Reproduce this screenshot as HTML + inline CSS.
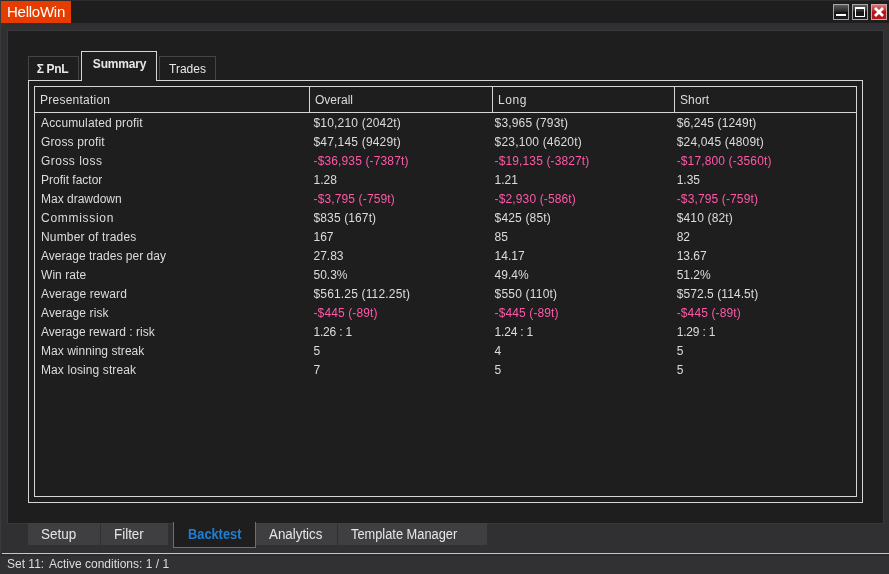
<!DOCTYPE html>
<html><head><meta charset="utf-8">
<style>
html,body{margin:0;padding:0;}
body{width:889px;height:574px;background:#303033;overflow:hidden;position:relative;font-family:"Liberation Sans",sans-serif;color:#e6e6e6;}
.abs{position:absolute;}
#titlebar{left:0;top:0;width:889px;height:23px;background:#1e1e1e;}
#edgeL{left:0;top:0;width:1px;height:574px;background:#3a3a3c;}
#edgeT{left:0;top:0;width:889px;height:1px;background:#2c2c2e;}
#title{left:1px;top:1px;width:70px;height:22px;background:#e63c00;color:#fff;font-size:15px;line-height:21px;letter-spacing:-0.25px;}
#title span{position:absolute;left:6px;top:0;}
#panel{left:8px;top:31px;width:875px;height:492px;background:#1e1e1e;box-shadow:0 0 0 1px #39393c;}
.btn{top:4px;width:16px;height:16px;box-sizing:border-box;border:1px solid #a6a6a6;background:linear-gradient(#5c5c5c,#2a2a2a 45%,#141414 50%,#1c1c1c);}
#close{background:linear-gradient(#d87878,#c03030 40%,#b01418 50%,#b41a1c);border-color:#d0a8a8;}
.tab{box-sizing:border-box;border:1px solid #454545;border-bottom:none;font-size:12px;text-align:center;color:#e8e8e8;}
#tabpanel{left:28px;top:80px;width:835px;height:423px;box-sizing:border-box;border:1px solid #d6d6d6;}
#grid{left:34px;top:86px;width:823px;height:411px;box-sizing:border-box;border:1px solid #d6d6d6;}
.hl{background:#d6d6d6;}
.t{font-size:12px;line-height:14px;white-space:nowrap;color:#dcdcdc;}
.neg{color:#ff58a8;}
.bt{top:523px;height:22px;background:#3f3f42;font-size:14px;line-height:22px;text-align:left;color:#e6e6e6;box-sizing:border-box;padding-left:13px;white-space:nowrap;}
.bt span,.bts span{display:inline-block;transform-origin:0 50%;}
#status{left:0;top:554px;width:889px;height:20px;background:#313134;border-top:2px solid #2c2c2f;box-sizing:border-box;}
</style></head><body>
<div class="abs" id="titlebar"></div>
<div class="abs" id="edgeT"></div><div class="abs" id="edgeL"></div>
<div class="abs" id="title"><span>HelloWin</span></div>
<div class="abs btn" style="left:833px"><div class="abs" style="left:2px;top:9px;width:10px;height:2px;background:#fff"></div></div>
<div class="abs btn" style="left:852px"><div class="abs" style="left:2px;top:2px;width:10px;height:10px;box-sizing:border-box;border:1px solid #fff;border-top-width:2px"></div></div>
<div class="abs btn" id="close" style="left:871px"><svg class="abs" style="left:0;top:0" width="14" height="14" viewBox="0 0 14 14"><path d="M3 3 L11 11 M11 3 L3 11" stroke="#fff" stroke-width="2.8"/></svg></div>
<div class="abs" id="panel"></div>

<div class="abs tab" style="left:28px;top:56px;width:51px;height:24px;font-weight:bold;line-height:24px;letter-spacing:-0.3px;text-indent:-2px">Σ PnL</div>
<div class="abs tab" style="left:159px;top:56px;width:57px;height:24px;line-height:24px;">Trades</div>
<div class="abs" id="tabpanel"></div>
<div class="abs tab" style="left:81px;top:51px;width:76px;height:30px;font-weight:bold;line-height:24px;border-color:#d6d6d6;background:#1e1e1e;letter-spacing:-0.2px;text-indent:1px">Summary</div>
<div class="abs" id="grid"></div>
<div class="abs hl" style="left:35px;top:112px;width:821px;height:1px"></div>
<div class="abs hl" style="left:309px;top:87px;width:1px;height:25px"></div>
<div class="abs hl" style="left:492px;top:87px;width:1px;height:25px"></div>
<div class="abs hl" style="left:674px;top:87px;width:1px;height:25px"></div>
<div id="rows">
<div class="abs t" style="left:40px;top:93px;letter-spacing:0.240px">Presentation</div>
<div class="abs t" style="left:315px;top:93px;letter-spacing:0.000px">Overall</div>
<div class="abs t" style="left:498px;top:93px;letter-spacing:0.550px">Long</div>
<div class="abs t" style="left:680px;top:93px;letter-spacing:0.100px">Short</div>
<div class="abs t" style="left:41px;top:116px;letter-spacing:0.129px">Accumulated profit</div>
<div class="abs t" style="left:313.5px;top:116px;letter-spacing:0.186px">$10,210 (2042t)</div>
<div class="abs t" style="left:494.6px;top:116px;letter-spacing:0.167px">$3,965 (793t)</div>
<div class="abs t" style="left:676.7px;top:116px;letter-spacing:0.123px">$6,245 (1249t)</div>
<div class="abs t" style="left:41px;top:135px;letter-spacing:0.145px">Gross profit</div>
<div class="abs t" style="left:313.5px;top:135px;letter-spacing:0.186px">$47,145 (9429t)</div>
<div class="abs t" style="left:494.6px;top:135px;letter-spacing:0.171px">$23,100 (4620t)</div>
<div class="abs t" style="left:676.7px;top:135px;letter-spacing:0.171px">$24,045 (4809t)</div>
<div class="abs t" style="left:41px;top:154px;letter-spacing:0.467px">Gross loss</div>
<div class="abs t neg" style="left:313.5px;top:154px;letter-spacing:0.137px">-$36,935 (-7387t)</div>
<div class="abs t neg" style="left:494.6px;top:154px;letter-spacing:0.125px">-$19,135 (-3827t)</div>
<div class="abs t neg" style="left:676.7px;top:154px;letter-spacing:0.125px">-$17,800 (-3560t)</div>
<div class="abs t" style="left:41px;top:173px;">Profit factor</div>
<div class="abs t" style="left:313.5px;top:173px;">1.28</div>
<div class="abs t" style="left:494.6px;top:173px;">1.21</div>
<div class="abs t" style="left:676.7px;top:173px;">1.35</div>
<div class="abs t" style="left:41px;top:192px;">Max drawdown</div>
<div class="abs t neg" style="left:313.5px;top:192px;letter-spacing:0.135px">-$3,795 (-759t)</div>
<div class="abs t neg" style="left:494.6px;top:192px;letter-spacing:0.129px">-$2,930 (-586t)</div>
<div class="abs t neg" style="left:676.7px;top:192px;letter-spacing:0.135px">-$3,795 (-759t)</div>
<div class="abs t" style="left:41px;top:211px;letter-spacing:0.711px">Commission</div>
<div class="abs t" style="left:313.5px;top:211px;letter-spacing:0.120px">$835 (167t)</div>
<div class="abs t" style="left:494.6px;top:211px;letter-spacing:0.156px">$425 (85t)</div>
<div class="abs t" style="left:676.7px;top:211px;letter-spacing:0.156px">$410 (82t)</div>
<div class="abs t" style="left:41px;top:230px;letter-spacing:0.173px">Number of trades</div>
<div class="abs t" style="left:313.5px;top:230px;">167</div>
<div class="abs t" style="left:494.6px;top:230px;">85</div>
<div class="abs t" style="left:676.7px;top:230px;">82</div>
<div class="abs t" style="left:41px;top:249px;letter-spacing:0.019px">Average trades per day</div>
<div class="abs t" style="left:313.5px;top:249px;">27.83</div>
<div class="abs t" style="left:494.6px;top:249px;">14.17</div>
<div class="abs t" style="left:676.7px;top:249px;">13.67</div>
<div class="abs t" style="left:41px;top:268px;letter-spacing:0.057px">Win rate</div>
<div class="abs t" style="left:313.5px;top:268px;">50.3%</div>
<div class="abs t" style="left:494.6px;top:268px;">49.4%</div>
<div class="abs t" style="left:676.7px;top:268px;">51.2%</div>
<div class="abs t" style="left:41px;top:287px;letter-spacing:0.108px">Average reward</div>
<div class="abs t" style="left:313.5px;top:287px;letter-spacing:0.163px">$561.25 (112.25t)</div>
<div class="abs t" style="left:494.6px;top:287px;letter-spacing:0.200px">$550 (110t)</div>
<div class="abs t" style="left:676.7px;top:287px;letter-spacing:0.071px">$572.5 (114.5t)</div>
<div class="abs t" style="left:41px;top:306px;letter-spacing:0.091px">Average risk</div>
<div class="abs t neg" style="left:313.5px;top:306px;letter-spacing:0.115px">-$445 (-89t)</div>
<div class="abs t neg" style="left:494.6px;top:306px;letter-spacing:0.115px">-$445 (-89t)</div>
<div class="abs t neg" style="left:676.7px;top:306px;letter-spacing:0.115px">-$445 (-89t)</div>
<div class="abs t" style="left:41px;top:325px;letter-spacing:0.030px">Average reward : risk</div>
<div class="abs t" style="left:313.5px;top:325px;letter-spacing:-0.200px">1.26 : 1</div>
<div class="abs t" style="left:494.6px;top:325px;letter-spacing:-0.200px">1.24 : 1</div>
<div class="abs t" style="left:676.7px;top:325px;letter-spacing:-0.200px">1.29 : 1</div>
<div class="abs t" style="left:41px;top:344px;letter-spacing:0.035px">Max winning streak</div>
<div class="abs t" style="left:313.5px;top:344px;">5</div>
<div class="abs t" style="left:494.6px;top:344px;">4</div>
<div class="abs t" style="left:676.7px;top:344px;">5</div>
<div class="abs t" style="left:41px;top:363px;letter-spacing:0.100px">Max losing streak</div>
<div class="abs t" style="left:313.5px;top:363px;">7</div>
<div class="abs t" style="left:494.6px;top:363px;">5</div>
<div class="abs t" style="left:676.7px;top:363px;">5</div>
</div><!--endrows-->

<div class="abs bt" style="left:28px;width:72px;"><span style="transform:scaleX(0.963)">Setup</span></div>
<div class="abs bt" style="left:101px;width:67px;"><span style="transform:scaleX(0.957)">Filter</span></div>
<div class="abs bts" style="left:173px;top:522px;width:83px;height:26px;padding-top:1px;box-sizing:border-box;border:1px solid #1a84e0;border-top:none;background:#1e1e1e;color:#1c80d6;font-size:14px;font-weight:bold;line-height:22px;text-align:left;padding-left:14px;white-space:nowrap"><span style="transform:scaleX(0.915)">Backtest</span></div>
<div class="abs bt" style="left:256px;width:81px;"><span style="transform:scaleX(0.954)">Analytics</span></div>
<div class="abs bt" style="left:338px;width:149px;"><span style="transform:scaleX(0.916)">Template Manager</span></div>
<div class="abs" style="left:2px;top:553px;width:887px;height:1px;background:#c6c6c6"></div>
<div class="abs" id="status"></div>
<div class="abs t" style="left:7px;top:557px;">Set 11: <span style="margin-left:1.5px">Active conditions: 1 / 1</span></div>
</body></html>
